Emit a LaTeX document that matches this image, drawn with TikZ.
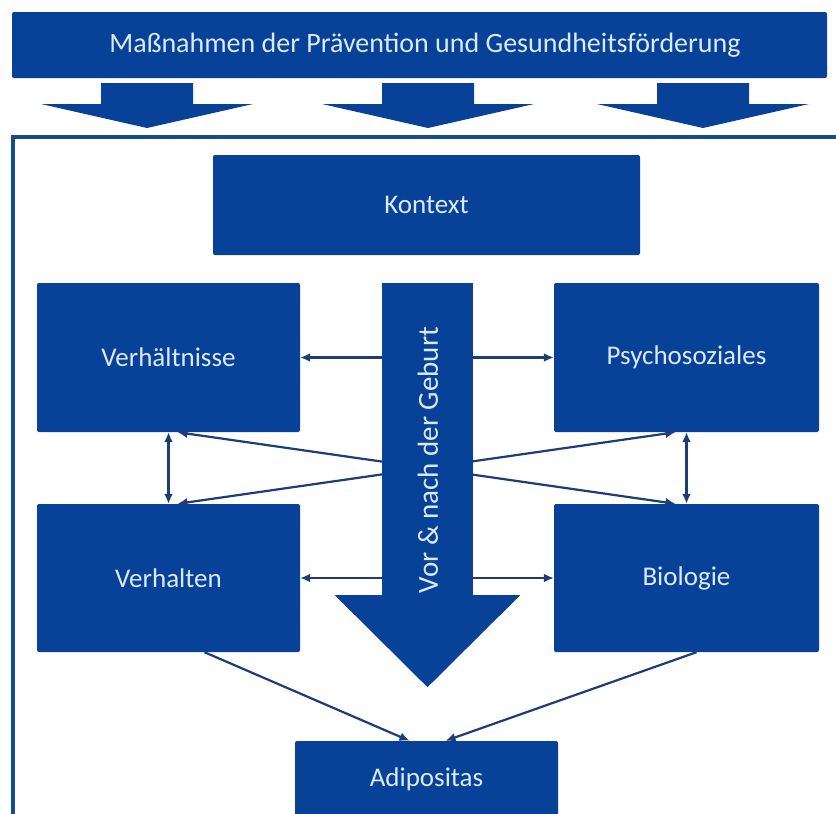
\documentclass[tikz,border=0pt]{standalone}
\usepackage{fontspec}
\setmainfont{Carlito}
\usetikzlibrary{arrows.meta}
\definecolor{boxblau}{RGB}{8,66,152}
\definecolor{rahmenblau}{RGB}{26,74,142}
\definecolor{pfeilblau}{RGB}{30,60,118}
\definecolor{schrift}{RGB}{218,234,250}
\begin{document}
\begin{tikzpicture}[x=1pt,y=-1pt,
        feld/.style={fill=boxblau, text=schrift, rounded corners=2pt, inner sep=0pt, font=\fontsize{27}{32}\selectfont},
        bez/.style={draw=pfeilblau, line width=2.2pt, -{Latex[length=10pt,width=9pt]}},
        wechsel/.style={draw=pfeilblau, line width=2.2pt, {Latex[length=10pt,width=9pt]}-{Latex[length=10pt,width=9pt]}}]
            \useasboundingbox (0,0) rectangle (836,814);
            \clip (0,0) rectangle (836,814);
            \fill[white] (0,0) rectangle (836,814);
            \draw[rahmenblau, line width=3.5pt] (13,137) rectangle (870,860);
            \node[feld, minimum width=815pt, minimum height=66pt] (massnahmen) at (419.5,45) {};
            \node[text=schrift, font=\fontsize{28}{32}\selectfont] (massnahmentext) at (425,45) {Maßnahmen der Prävention und Gesundheitsförderung};
            \foreach \mx in {147,428,703}
                \fill[boxblau] (\mx-46,83) -- (\mx+46,83) -- (\mx+46,104) -- (\mx+106,104) -- (\mx,128) -- (\mx-106,104) -- (\mx-46,104) -- cycle;
            \node[feld, minimum width=427pt, minimum height=100pt] (kontext) at (426.5,205) {Kontext};
            \node[feld, minimum width=263pt, minimum height=149pt] (verh) at (168.5,357.5) {Verhältnisse};
            \node[feld, minimum width=265pt, minimum height=149pt] (psycho) at (686.5,357.5) {Psychosoziales};
            \node[feld, minimum width=263pt, minimum height=148pt] (verhalten) at (168.5,578) {Verhalten};
            \node[feld, minimum width=265pt, minimum height=148pt] (bio) at (686.5,578) {Biologie};
            \node[feld, minimum width=263pt, minimum height=76pt] (adipositas) at (426.5,779) {Adipositas};
            \draw[wechsel] ([xshift=9pt]verh.south) -- ([xshift=-11pt]bio.north);
            \draw[wechsel] ([xshift=9pt]verhalten.north) -- ([xshift=-11pt]psycho.south);
            \node[fill=boxblau, inner sep=0pt, minimum width=91pt, minimum height=312pt] (schaft) at (427.5,439) {};
            \fill[boxblau] ([xshift=-47pt]schaft.south west) -- ([xshift=47pt]schaft.south east) -- ([yshift=-92pt]schaft.south) -- cycle;
            \node[rotate=90, text=schrift, font=\fontsize{29}{34}\selectfont] (geburt) at (428,460) {Vor \& nach der Geburt};
            \draw[bez] (schaft.west |- verh.east) -- (verh.east);
            \draw[bez] (schaft.east |- psycho.west) -- (psycho.west);
            \draw[bez] (schaft.west |- verhalten.east) -- (verhalten.east);
            \draw[bez] (schaft.east |- bio.west) -- (bio.west);
            \draw[wechsel] (verh.south) -- (verhalten.north);
            \draw[wechsel] (psycho.south) -- (bio.north);
            \draw[bez] ([xshift=36pt]verhalten.south) -- ([xshift=-17pt]adipositas.north);
            \draw[bez] ([xshift=10pt]bio.south) -- ([xshift=19pt]adipositas.north);
\end{tikzpicture}
\end{document}
